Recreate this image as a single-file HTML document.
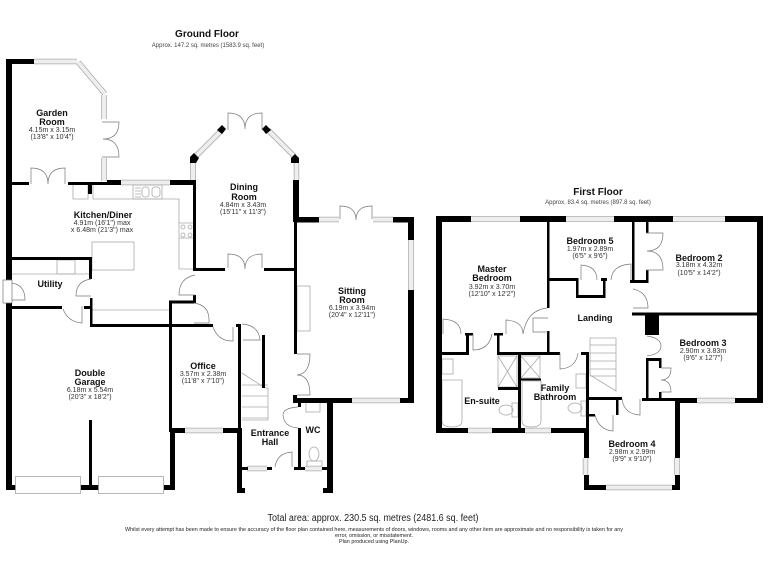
<!DOCTYPE html>
<html><head><meta charset="utf-8"><style>
html,body{margin:0;padding:0;background:#fff}
svg{display:block;font-family:"Liberation Sans",sans-serif}
.w{fill:#000}
.d{fill:none;stroke:#777;stroke-width:.7}
.g{fill:none;stroke:#aaa;stroke-width:.8}
.f{fill:#fff;stroke:#999;stroke-width:.7}
.n{font-weight:bold;font-size:9px;fill:#111;text-anchor:middle}
.s{font-size:7px;fill:#333;text-anchor:middle}
.t{font-weight:bold;font-size:10px;fill:#111;text-anchor:middle}
.a{font-size:6px;fill:#444;text-anchor:middle}
.x{font-size:5.3px;fill:#222;text-anchor:middle}
</style></head><body>
<svg width="768" height="576" viewBox="0 0 768 576" xmlns="http://www.w3.org/2000/svg">
<rect width="768" height="576" fill="#fff"/>

<!-- fixtures ground -->
<g class="g">
<path d="M73 185V199H88V185M93 185V199H179V269M179 199M179 269H193M179 223H193M179 238H193"/>
<rect x="133" y="185" width="29" height="14"/>
<rect x="92" y="242" width="42" height="28"/>
<path d="M12 274H89"/>
<rect x="57" y="260" width="18" height="14"/>
<path d="M92 310H169"/>
<rect x="297" y="286" width="13" height="45"/>
<rect x="306" y="401" width="14" height="11"/>
<rect x="307" y="461" width="15" height="6"/>
<ellipse cx="314" cy="454" rx="5" ry="7"/>
<path d="M242 373L265 388H268V420H242M242 385H268M242 396H268M242 407H268M242 418H268" />
<circle cx="183" cy="227" r="2"/><circle cx="190" cy="227" r="2"/><circle cx="183" cy="235" r="2"/><circle cx="190" cy="235" r="2"/>
<rect x="152" y="187" width="8" height="10" rx="3"/><rect x="142" y="187" width="7" height="10" rx="3"/>
<path d="M135 188h6M135 191h6M135 194h6M135 197h6"/>
</g>
<!-- fixtures first -->
<g class="g">
<rect x="498" y="356" width="19" height="31"/><path d="M498 356L517 387M517 356L498 387"/>
<rect x="521" y="356" width="19" height="22"/><path d="M521 356L540 378M540 356L521 378"/>
<path d="M442 380H462V421Q462 427 452 427Q442 427 442 421Z"/>
<path d="M522 381H541V421Q541 427 531 427Q522 427 522 421Z"/>
<rect x="442" y="359" width="11" height="15"/>
<rect x="512" y="403" width="6" height="14"/><ellipse cx="506" cy="410" rx="7" ry="5"/>
<rect x="576" y="374" width="10" height="14"/>
<rect x="581" y="401" width="5" height="15"/><ellipse cx="575" cy="408" rx="7" ry="5"/>
<path d="M590 338H616V391L590 375ZM590 345H616M590 353H616M590 361H616M590 369H616M590 376H616"/>
</g>

<!-- windows -->
<path fill="none" stroke="#aaa" stroke-width="5.5" d="M34 61.5H77M78 62L105 94M104 95V119M104 158V181M121 182.5H170M193 163V180M195 157L222 130M268 130L294 156M296.5 163V180M319 219.5H339M373 219.5H393M411 240V290M352 400.5H400M185 430.5H223M247 468.5H267M305 468.5H322M471 219H520M566 219H614M673 219H725M697 400.5H735M468 430.5H492M525 430.5H551M585.5 458V475M677 458V475M606 487.5H672"/>
<path fill="none" stroke="#eee" stroke-width="4" d="M34 61.5H77M78 62L105 94M104 95V119M104 158V181M121 182.5H170M193 163V180M195 157L222 130M268 130L294 156M296.5 163V180M319 219.5H339M373 219.5H393M411 240V290M352 400.5H400M185 430.5H223M247 468.5H267M305 468.5H322M471 219H520M566 219H614M673 219H725M697 400.5H735M468 430.5H492M525 430.5H551M585.5 458V475M677 458V475M606 487.5H672"/>

<!-- walls ground -->
<g class="w">
<rect x="6" y="59" width="6" height="221"/><rect x="6" y="59" width="28" height="5"/>
<rect x="6" y="303" width="6" height="187"/>
<rect x="12" y="182" width="17" height="3"/><rect x="68" y="182" width="40" height="3"/><rect x="107" y="180" width="14" height="5"/><rect x="170" y="180" width="26" height="5"/>
<rect x="88" y="185" width="4" height="9"/>
<rect x="193" y="180" width="3" height="91"/>
<rect x="196" y="268" width="29" height="3"/><rect x="264" y="268" width="30" height="3"/>
<rect x="193" y="295" width="3" height="8"/><rect x="169" y="300.500" width="27" height="3"/>
<rect x="169" y="301" width="3" height="131"/>
<rect x="12" y="257" width="80" height="3"/><rect x="89" y="257" width="3" height="22"/>
<rect x="90" y="298" width="2.500" height="29"/><rect x="90" y="324" width="123" height="3"/>
<rect x="12" y="306" width="50" height="3"/><rect x="84" y="306" width="6" height="3"/>
<rect x="236" y="324" width="5" height="3"/><rect x="238" y="324" width="3" height="108"/>
<rect x="170" y="428" width="15" height="5"/><rect x="223" y="428" width="19" height="5"/>
<rect x="170" y="433" width="5" height="57"/><rect x="164" y="485" width="10" height="5"/>
<rect x="81" y="485" width="18" height="5"/><rect x="6" y="485" width="10" height="5"/>
<rect x="89" y="420" width="3" height="66"/>
<rect x="237" y="428" width="5" height="65"/><rect x="237" y="488" width="8" height="5"/>
<rect x="327" y="403" width="6" height="90"/><rect x="323" y="488" width="10" height="5"/>
<rect x="262" y="335" width="3" height="53"/>
<rect x="293" y="180" width="6" height="42"/><rect x="294" y="222" width="3" height="132"/>
<rect x="294" y="217" width="25" height="5.500"/><rect x="393" y="217" width="21" height="5.500"/>
<rect x="408" y="217" width="6" height="23"/><rect x="408" y="290" width="6" height="113"/>
<rect x="293" y="395" width="4" height="8"/><rect x="293" y="398" width="59" height="5"/><rect x="400" y="398" width="14" height="5"/>
<rect x="298" y="400" width="3" height="7"/><rect x="298" y="428" width="3" height="40"/>
<rect x="242" y="467" width="6" height="3"/><rect x="267" y="467" width="5" height="3"/><rect x="294" y="467" width="11" height="3"/><rect x="322" y="467" width="6" height="3"/>
<!-- blobs -->
<path d="M190 163V157L194 153L199 158L196 163ZM217 130L222 125L226 129L222 134ZM262 129L266 125L271 130L266 134ZM291 158L295 154L299 158V163H291Z"/>
<!-- first floor -->
<rect x="436" y="216" width="6" height="217"/><rect x="436" y="216" width="35" height="6"/>
<rect x="520" y="216" width="46" height="6"/><rect x="614" y="216" width="59" height="6"/><rect x="725" y="216" width="38" height="6"/>
<rect x="757" y="216" width="6" height="187"/>
<rect x="735" y="398" width="28" height="5"/><rect x="675" y="398" width="22" height="5"/>
<rect x="675" y="398" width="5" height="60"/><rect x="675" y="475" width="5" height="15"/>
<rect x="436" y="428" width="32" height="5"/><rect x="492" y="428" width="33" height="5"/><rect x="551" y="428" width="38" height="5"/>
<rect x="584" y="432" width="5" height="26"/><rect x="584" y="475" width="5" height="15"/><rect x="584" y="485" width="22" height="5"/><rect x="672" y="485" width="8" height="5"/>
<rect x="547" y="222" width="2.500" height="86"/>
<rect x="549" y="278" width="28" height="3"/><rect x="576" y="278" width="2.500" height="20"/><rect x="576" y="295" width="29" height="3"/><rect x="603" y="278" width="2.500" height="20"/><rect x="601" y="278" width="6" height="3"/>
<rect x="632" y="222" width="2.500" height="59"/><rect x="630" y="280" width="18" height="3"/>
<rect x="646" y="222" width="2.500" height="11"/><rect x="646" y="270" width="2.500" height="13"/>
<rect x="632" y="312.500" width="125" height="3"/>
<rect x="645" y="315" width="14" height="20"/>
<rect x="646" y="358" width="15" height="3"/><rect x="646" y="358" width="2.500" height="41"/><rect x="659" y="358" width="2.500" height="10"/><rect x="659" y="392" width="2.500" height="7"/>
<rect x="642" y="398" width="33" height="3"/>
<rect x="589" y="397" width="33" height="3"/><rect x="616" y="397" width="2.500" height="18"/><rect x="589" y="414" width="6" height="2.500"/>
<rect x="586" y="352" width="3" height="81"/><rect x="581" y="352" width="7" height="3"/>
<rect x="518" y="352" width="3" height="77"/>
<rect x="442" y="352" width="27" height="3"/><rect x="466" y="333" width="3" height="22"/><rect x="465" y="333" width="8" height="2.500"/>
<rect x="497" y="333" width="2.500" height="22"/><rect x="494" y="333" width="9" height="2.500"/>
<rect x="547" y="331" width="2.500" height="24"/><rect x="497" y="352" width="63" height="3"/>
<rect x="498" y="387" width="20" height="3"/><rect x="521" y="378.500" width="20" height="2"/>
</g>

<!-- garage doors -->
<rect class="f" x="15.500" y="476.500" width="65" height="17"/><rect class="f" x="98.500" y="476.500" width="65" height="17"/>

<!-- doors -->
<path class="d" d="M31 184V168Q48 168 48 184Q48 168 65 168V184
M102 122H119Q119 139 103 139Q119 139 119 157H102
M3 280H12V303H3ZM12 283Q25 285 25 300H12
M91 279V279Q76 281 76 296H91
M63 309Q68 322 82 323V306
M195 275Q179 278 179 295H195
M194 303Q209 305 209 320V323H194
M213 327Q218 341 232 341H233V327
M228 130V113Q245 113 245 129Q245 113 262 113V130
M228 268V254Q245 254 245 269Q245 254 262 254V268
M340 219V206Q356 206 356 220Q356 206 372 206V219
M297 354H310Q310 374 297 375Q310 375 310 395H297
M243 325V324Q259 326 260 340H243
M298 407Q283 408 283 415Q284 427 298 428
M292 467V452Q277 453 275 467
M581 280V265Q597 266 597 280
M631 280V264Q612 265 611 280
M443 334V319Q461 320 461 334
M492 334Q489 350 473 350V334
M506 334V320Q523 321 523 334Q527 310 547 308
M533 327V318H548
M548 332H533V327
M646 233H663Q663 251 647 251Q663 251 663 270H646
M633 289Q648 292 648 308H633
M647 336Q661 338 661 346Q661 354 647 356
M661 368H671Q671 380 661 380Q671 380 671 392H661
M622 399Q624 414 640 415V399
M595 415Q599 430 613 431V415
M560 353V369Q576 368 578 353"/>

<!-- labels -->
<text class="t" x="207" y="37">Ground Floor</text>
<text class="a" x="208" y="47">Approx. 147.2 sq. metres (1583.9 sq. feet)</text>
<text class="t" x="598" y="195">First Floor</text>
<text class="a" x="598" y="204">Approx. 83.4 sq. metres (897.8 sq. feet)</text>

<text class="n" x="52" y="116">Garden</text><text class="n" x="52" y="125">Room</text>
<text class="s" x="52" y="132">4.15m x 3.15m</text><text class="s" x="52" y="139">(13'8" x 10'4")</text>

<text class="n" x="103" y="218">Kitchen/Diner</text>
<text class="s" x="102" y="225">4.91m (16'1") max</text><text class="s" x="102" y="232">x 6.48m (21'3") max</text>
<text class="n" x="50" y="287">Utility</text>

<text class="n" x="244" y="190">Dining</text><text class="n" x="244" y="200">Room</text>
<text class="s" x="243" y="207">4.84m x 3.43m</text><text class="s" x="243" y="214">(15'11" x 11'3")</text>

<text class="n" x="352" y="294">Sitting</text><text class="n" x="352" y="303">Room</text>
<text class="s" x="352" y="310">6.19m x 3.94m</text><text class="s" x="352" y="317">(20'4" x 12'11")</text>

<text class="n" x="90" y="376">Double</text><text class="n" x="90" y="385">Garage</text>
<text class="s" x="90" y="392">6.18m x 5.54m</text><text class="s" x="90" y="399">(20'3" x 18'2")</text>

<text class="n" x="203" y="369">Office</text>
<text class="s" x="203" y="376">3.57m x 2.38m</text><text class="s" x="203" y="383">(11'8" x 7'10")</text>

<text class="n" x="270" y="436">Entrance</text><text class="n" x="270" y="445">Hall</text>
<text class="n" x="313" y="433">WC</text>

<text class="n" x="492" y="272">Master</text><text class="n" x="492" y="281">Bedroom</text>
<text class="s" x="492" y="289">3.92m x 3.70m</text><text class="s" x="492" y="296">(12'10" x 12'2")</text>

<text class="n" x="590" y="244">Bedroom 5</text>
<text class="s" x="590" y="251">1.97m x 2.89m</text><text class="s" x="590" y="258">(6'5" x 9'6")</text>

<text class="n" x="699" y="261">Bedroom 2</text>
<text class="s" x="699" y="267">3.18m x 4.32m</text><text class="s" x="699" y="275">(10'5" x 14'2")</text>

<text class="n" x="703" y="346">Bedroom 3</text>
<text class="s" x="703" y="353">2.90m x 3.83m</text><text class="s" x="703" y="360">(9'6" x 12'7")</text>

<text class="n" x="595" y="321">Landing</text>

<text class="n" x="482" y="404">En-suite</text>
<text class="n" x="555" y="391">Family</text><text class="n" x="555" y="400">Bathroom</text>

<text class="n" x="632" y="447">Bedroom 4</text>
<text class="s" x="632" y="454">2.98m x 2.99m</text><text class="s" x="632" y="461">(9'9" x 9'10")</text>

<text x="373" y="521" text-anchor="middle" font-size="10" fill="#222" textLength="211" lengthAdjust="spacingAndGlyphs">Total area: approx. 230.5 sq. metres (2481.6 sq. feet)</text>
<text class="x" x="374" y="531" textLength="498" lengthAdjust="spacingAndGlyphs">Whilst every attempt has been made to ensure the accuracy of the floor plan contained here, measurements of doors, windows, rooms and any other item are approximate and no responsibility is taken for any</text>
<text class="x" x="374" y="537" textLength="78" lengthAdjust="spacingAndGlyphs">error, omission, or misstatement.</text>
<text class="x" x="374" y="543" textLength="70" lengthAdjust="spacingAndGlyphs">Plan produced using PlanUp.</text>
</svg>
</body></html>
